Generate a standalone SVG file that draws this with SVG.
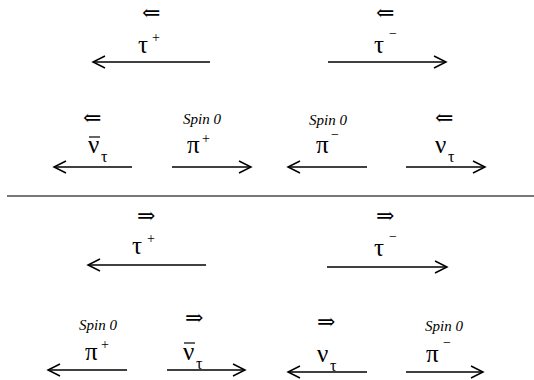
<svg xmlns="http://www.w3.org/2000/svg" width="534" height="380" viewBox="0 0 534 380">
<defs>
<marker id="ah" markerUnits="userSpaceOnUse" markerWidth="16" markerHeight="16" refX="13" refY="7" orient="auto">
<path d="M1,1 L13,7 L1,13" fill="none" stroke="#000" stroke-width="1.5"/>
</marker>
<style>
text{font-family:'Liberation Serif','Times New Roman','DejaVu Serif',serif;fill:#000}
.g{font-size:25px}
.sup{font-size:14px}
.sub{font-size:16px}
.sp{font-size:15px;font-style:italic}
.ar{font-family:'DejaVu Serif',serif;font-size:22px}
.c{fill:none;stroke:#000;stroke-width:1.5;marker-end:url(#ah)}
.bar{stroke:#000;stroke-width:1.2}
</style>
</defs>
<rect width="534" height="380" fill="#fff"/>
<line x1="7" y1="196" x2="534" y2="196" stroke="#777" stroke-width="2"/>
<g id="connectors">
<path class="c" d="M210,62 H93"/>
<path class="c" d="M328,62 H446"/>
<path class="c" d="M132,167 H54"/>
<path class="c" d="M172,167 H251"/>
<path class="c" d="M367,167 H288"/>
<path class="c" d="M406,167 H485"/>
<path class="c" d="M206,265 H88"/>
<path class="c" d="M327,267 H447"/>
<path class="c" d="M127,370 H48"/>
<path class="c" d="M167,370 H245"/>
<path class="c" d="M367,372 H288"/>
<path class="c" d="M406,372 H483"/>
</g>
<g id="tau-plus-1">
<text class="ar" x="142" y="20">⇐</text>
<text class="g" x="138" y="53">τ</text>
<text class="sup" x="152" y="42">+</text>
</g>
<g id="tau-minus-1">
<text class="ar" x="376" y="20">⇐</text>
<text class="g" x="374" y="53">τ</text>
<text class="sup" x="389" y="38">−</text>
</g>
<g id="nubar-1">
<text class="ar" x="83" y="125">⇐</text>
<line class="bar" x1="89" y1="137" x2="100" y2="137"/>
<text class="g" x="88" y="153">ν</text>
<text class="sub" x="101" y="162">τ</text>
</g>
<g id="pi-plus-1">
<text class="sp" x="183" y="124">Spin 0</text>
<text class="g" x="187" y="153">π</text>
<text class="sup" x="202" y="143">+</text>
</g>
<g id="pi-minus-1">
<text class="sp" x="309" y="125">Spin 0</text>
<text class="g" x="316" y="153">π</text>
<text class="sup" x="331" y="139">−</text>
</g>
<g id="nu-1">
<text class="ar" x="435" y="125">⇐</text>
<text class="g" x="435" y="153">ν</text>
<text class="sub" x="448" y="162">τ</text>
</g>
<g id="tau-plus-2">
<text class="ar" x="137" y="223">⇒</text>
<text class="g" x="132" y="254">τ</text>
<text class="sup" x="147" y="243">+</text>
</g>
<g id="tau-minus-2">
<text class="ar" x="376" y="223">⇒</text>
<text class="g" x="374" y="256">τ</text>
<text class="sup" x="389" y="241">−</text>
</g>
<g id="pi-plus-2">
<text class="sp" x="79" y="330">Spin 0</text>
<text class="g" x="85" y="360">π</text>
<text class="sup" x="101" y="349">+</text>
</g>
<g id="nubar-2">
<text class="ar" x="185" y="325">⇒</text>
<line class="bar" x1="184" y1="343" x2="195" y2="343"/>
<text class="g" x="183" y="360">ν</text>
<text class="sub" x="196" y="369">τ</text>
</g>
<g id="nu-2">
<text class="ar" x="317" y="329">⇒</text>
<text class="g" x="317" y="362">ν</text>
<text class="sub" x="330" y="371">τ</text>
</g>
<g id="pi-minus-2">
<text class="sp" x="425" y="331">Spin 0</text>
<text class="g" x="426" y="362">π</text>
<text class="sup" x="443" y="347">−</text>
</g>
</svg>
